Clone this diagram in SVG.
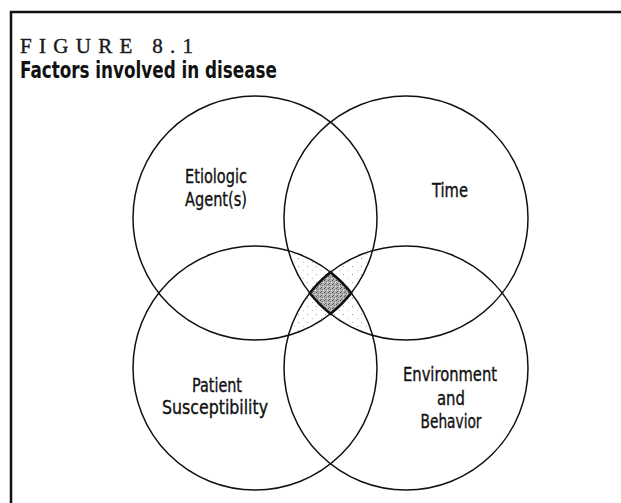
<svg xmlns="http://www.w3.org/2000/svg" width="621" height="503" viewBox="0 0 621 503">
<style>
.circle{fill:none;stroke:#111;stroke-width:1.5}
.lbl{font-family:"Liberation Sans Narrow","DejaVu Sans Condensed","Liberation Sans",sans-serif;font-size:20px;fill:#111;stroke:#111;stroke-width:0.35;text-anchor:middle}
.frame{fill:none;stroke:#111;stroke-width:2.5}
</style>
<defs>
<pattern id="stip" width="9" height="8" patternUnits="userSpaceOnUse">
<rect x="1" y="2" width="1" height="1" fill="#999"/>
<rect x="6" y="6" width="1" height="1" fill="#bbb"/>
</pattern>
<pattern id="dark" width="4" height="4" patternUnits="userSpaceOnUse">
<rect width="4" height="4" fill="#b0b0b0"/>
<rect x="0" y="0" width="1" height="1" fill="#555"/>
<rect x="2" y="1" width="1" height="1" fill="#777"/>
<rect x="1" y="3" width="1" height="1" fill="#666"/>
<rect x="3" y="2" width="1" height="1" fill="#e0e0e0"/>
</pattern>
<clipPath id="cTL"><circle cx="255" cy="218" r="122"/></clipPath>
<clipPath id="cTR"><circle cx="406" cy="218" r="122"/></clipPath>
<clipPath id="cBL"><circle cx="255" cy="368" r="122"/></clipPath>
<clipPath id="cBR"><circle cx="406" cy="368" r="122"/></clipPath>
</defs>
<path class="frame" d="M11,503 V12 H621"/>
<g id="title">
<text x="20" y="53" font-family="Liberation Serif,serif" font-size="21" fill="#1a1a1a" stroke="#1a1a1a" stroke-width="0.4" textLength="173" lengthAdjust="spacing">FIGURE 8.1</text>
<text x="20" y="78" font-family="Liberation Sans Narrow,DejaVu Sans Condensed,Liberation Sans,sans-serif" font-size="23" font-weight="bold" fill="#111" textLength="257" lengthAdjust="spacingAndGlyphs">Factors involved in disease</text>
</g>
<g id="stipple">
<g clip-path="url(#cTL)"><g clip-path="url(#cTR)"><g clip-path="url(#cBL)"><rect x="150" y="150" width="360" height="300" fill="url(#stip)"/></g></g></g>
<g clip-path="url(#cTL)"><g clip-path="url(#cTR)"><g clip-path="url(#cBR)"><rect x="150" y="150" width="360" height="300" fill="url(#stip)"/></g></g></g>
<g clip-path="url(#cBL)"><g clip-path="url(#cBR)"><g clip-path="url(#cTL)"><rect x="150" y="150" width="360" height="300" fill="url(#stip)"/></g></g></g>
<g clip-path="url(#cBL)"><g clip-path="url(#cBR)"><g clip-path="url(#cTR)"><rect x="150" y="150" width="360" height="300" fill="url(#stip)"/></g></g></g>
</g>
<g id="etiologic">
<circle class="circle" cx="255" cy="218" r="122"/>
<text class="lbl" x="216" y="183" textLength="62" lengthAdjust="spacingAndGlyphs">Etiologic</text>
<text class="lbl" x="216" y="206" textLength="62" lengthAdjust="spacingAndGlyphs">Agent(s)</text>
</g>
<g id="time">
<circle class="circle" cx="406" cy="218" r="122"/>
<text class="lbl" x="450" y="197" textLength="36" lengthAdjust="spacingAndGlyphs">Time</text>
</g>
<g id="patient">
<circle class="circle" cx="255" cy="368" r="122"/>
<text class="lbl" x="217" y="392" textLength="50" lengthAdjust="spacingAndGlyphs">Patient</text>
<text class="lbl" x="215" y="414" textLength="106" lengthAdjust="spacingAndGlyphs">Susceptibility</text>
</g>
<g id="environment">
<circle class="circle" cx="406" cy="368" r="122"/>
<text class="lbl" x="450" y="381" textLength="94" lengthAdjust="spacingAndGlyphs">Environment</text>
<text class="lbl" x="451" y="405" textLength="28" lengthAdjust="spacingAndGlyphs">and</text>
<text class="lbl" x="451" y="428" textLength="61" lengthAdjust="spacingAndGlyphs">Behavior</text>
</g>
<g id="center">
<path d="M330.5,272.17 A122,122 0 0 1 351.22,293 A122,122 0 0 1 330.5,313.83 A122,122 0 0 1 309.78,293 A122,122 0 0 1 330.5,272.17 Z" fill="url(#dark)" stroke="#111" stroke-width="2.5"/>
</g>
</svg>
